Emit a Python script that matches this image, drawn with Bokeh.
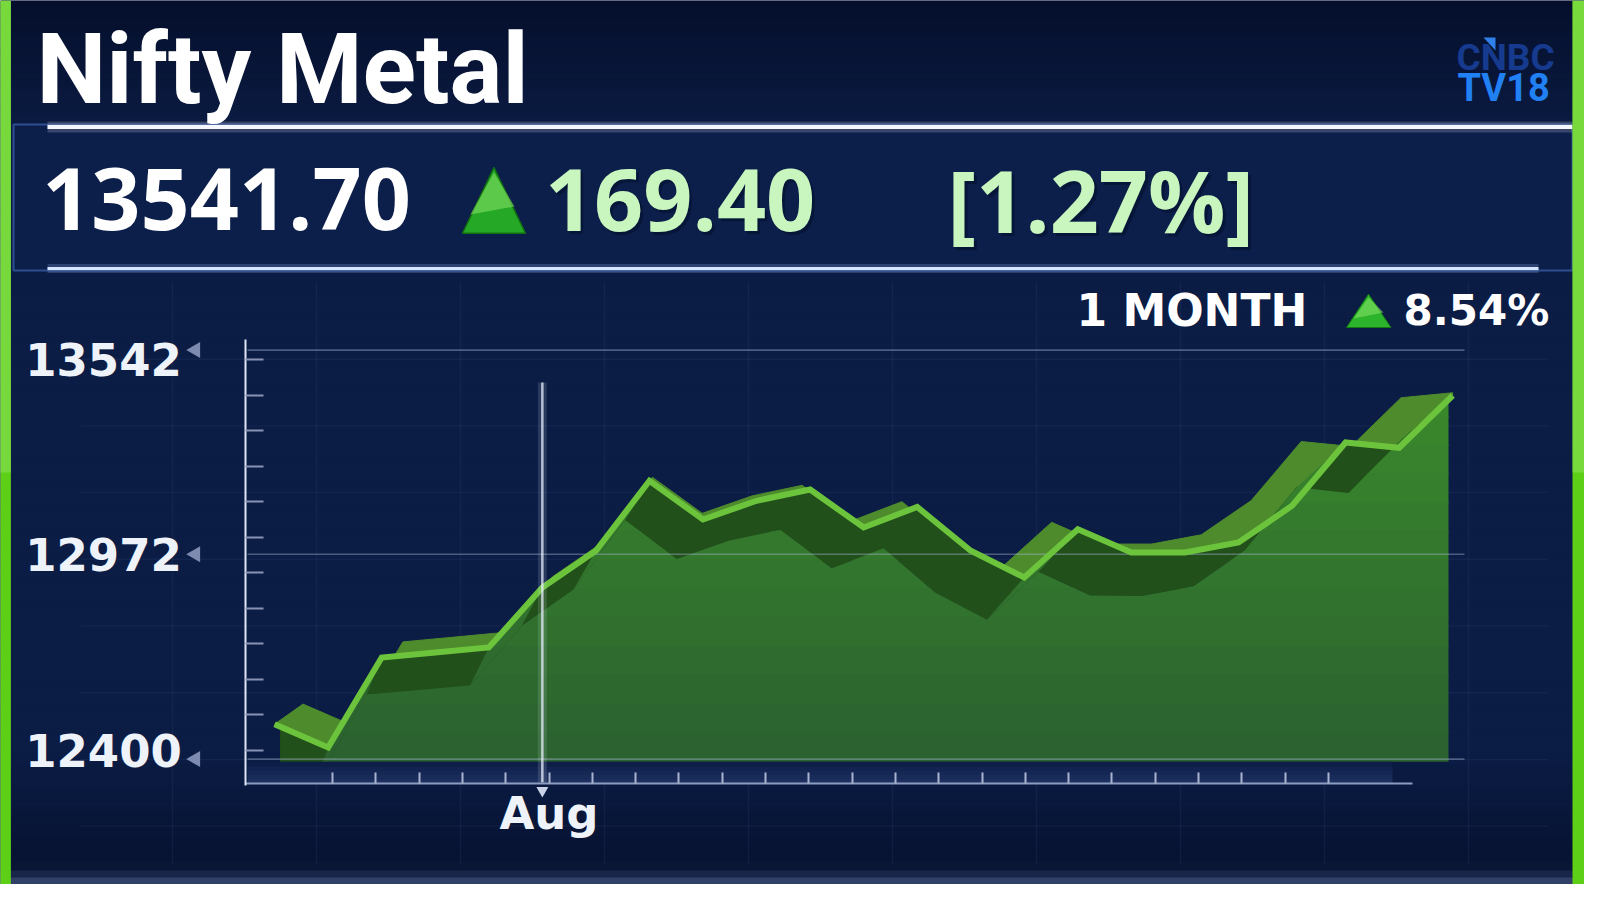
import numpy as np
from bokeh.plotting import figure
from bokeh.models import Range1d, LinearAxis, FixedTicker
from bokeh.core.properties import value
from bokeh.embed import file_html
from bokeh.resources import INLINE

# ------------------------------------------------------------------ data
index_name = "Nifty Metal"
last_close = 13541.70
day_change = 169.40
day_change_pct = 1.27
period_name = "1 MONTH"
period_change_pct = 8.54
logo_top, logo_bottom = "CNBC", "TV18"

closes = [12476.5, 12401.0, 12692.7, 12708.9, 12725.1, 12919.5, 13038.5,
          13265.3, 13139.9, 13200.5, 13237.1, 13114.0, 13180.4, 13038.5,
          12951.9, 13108.5, 13032.9, 13032.9, 13065.3, 13184.3, 13389.4,
          13372.3, 13541.7]
days = list(range(len(closes)))
month_start_day = 5
month_name = "Aug"
y_tick_values = [12400, 12972, 13542]
n_day_ticks = 24
n_axis_dashes = 12

# ------------------------------------------------------------------ layout
W, H, M = 1584, 884, 8
BG = "#0b1c45"
vmax = max(closes)

# front (data) plane calibration in page pixels
FX0, FDX, FY_TOP, FPU = 282.1, 53.55, 403.0, 0.30857
# back plane (day ticks), label scale and grid scale
BX0, BDX = 340.0, 43.3
LY0, LPU = 758.0, 0.34238
GY, GV, GPU = 562.0, 12971.3, 0.35813


def fpx(i, v):
    return FX0 + FDX * np.asarray(i, float), FY_TOP + (vmax - np.asarray(v, float)) * FPU


def fdata(X, Y):
    return (np.asarray(X, float) - FX0) / FDX, vmax - (np.asarray(Y, float) - FY_TOP) / FPU


def lab_v(Y):
    return y_tick_values[0] + (LY0 - Y) / LPU


def grid_v(Y):
    return GV + (GY - Y) / GPU


def back_x(X):
    return (X - BX0) / BDX


def mix(c1, c2, t):
    a = [int(c1[k:k + 2], 16) for k in (1, 3, 5)]
    b = [int(c2[k:k + 2], 16) for k in (1, 3, 5)]
    return "#%02x%02x%02x" % tuple(int(round(a[k] + (b[k] - a[k]) * t)) for k in range(3))


def clip_poly(pts, xmin=-1e9, xmax=1e9, ymin=-1e9, ymax=1e9):
    def edge(pts, inside, cross):
        out = []
        for idx in range(len(pts)):
            cur, prev = pts[idx], pts[idx - 1]
            ci, pi = inside(cur), inside(prev)
            if ci:
                if not pi:
                    out.append(cross(prev, cur))
                out.append(cur)
            elif pi:
                out.append(cross(prev, cur))
        return out

    def at_x(x0):
        return lambda p, q: (x0, p[1] + (q[1] - p[1]) * (x0 - p[0]) / (q[0] - p[0]))

    def at_y(y0):
        return lambda p, q: (p[0] + (q[0] - p[0]) * (y0 - p[1]) / (q[1] - p[1]), y0)

    pts = [(float(a), float(b)) for a, b in pts]
    steps = [(lambda p: p[0] >= xmin, at_x(xmin)), (lambda p: p[0] <= xmax, at_x(xmax)),
             (lambda p: p[1] >= ymin, at_y(ymin)), (lambda p: p[1] <= ymax, at_y(ymax))]
    for inside, cross in steps:
        if not pts:
            break
        pts = edge(pts, inside, cross)
    return pts


p = figure(width=W, height=H,
           x_range=Range1d((M - FX0) / FDX, (M + W - FX0) / FDX),
           y_range=Range1d(vmax - (M + H - FY_TOP) / FPU, vmax - (M - FY_TOP) / FPU),
           x_axis_type=None, y_axis_type=None, output_backend="svg",
           toolbar_location=None, min_border=0, background_fill_color=BG,
           border_fill_color=BG, outline_line_color=None)
p.extra_x_ranges = {"px": Range1d(M, M + W), "back": Range1d(back_x(M), back_x(M + W))}
p.extra_y_ranges = {"px": Range1d(M + H, M), "lab": Range1d(lab_v(M + H), lab_v(M)),
                    "grid": Range1d(grid_v(M + H), grid_v(M))}
PX = dict(x_range_name="px", y_range_name="px")

# ---------------------------------------------------------- background
stops = [(M, "#050f2c"), (130, "#0a1a40"), (320, "#0b1c45"), (760, "#0b1c45"),
         (862, "#071332"), (878, "#0b1738"), (M + H, "#3e4e76")]
bt, bb, bc = [], [], []
for (y0, c0), (y1, c1) in zip(stops[:-1], stops[1:]):
    n = max(2, int((y1 - y0) / 6))
    e = np.linspace(y0, y1, n + 1)
    for k in range(n):
        bt.append(e[k]); bb.append(e[k + 1] + 0.6); bc.append(mix(c0, c1, (k + 0.5) / n))
p.quad(left=M, right=M + W, top=bt, bottom=bb, fill_color=bc, line_color=None, **PX)

# faint background grid
gx = np.arange(180, 1560, 144.0)
gy = np.arange(366.7, 860, 66.7)
p.segment(x0=gx, x1=gx, y0=290, y1=872, line_color="#7f96d6", line_alpha=0.07, line_width=1.5, **PX)
p.segment(x0=88, x1=1556, y0=gy, y1=gy, line_color="#7f96d6", line_alpha=0.07, line_width=1.5, **PX)

# ---------------------------------------------------------- header box
p.quad(left=21, right=1580, top=132, bottom=278, fill_color="#0c1e4a",
       line_color="#2e4f90", line_width=2, **PX)
p.segment(x0=55, x1=1580, y0=134.5, y1=134.5, line_color="#ffffff", line_alpha=0.18, line_width=11, **PX)
p.segment(x0=55, x1=1580, y0=134.5, y1=134.5, line_color="#f4f7ff", line_width=4, **PX)
p.segment(x0=55, x1=1546, y0=276, y1=276, line_color="#9cc0ff", line_alpha=0.22, line_width=9, **PX)
p.segment(x0=55, x1=1546, y0=276, y1=276, line_color="#d6e4ff", line_width=3, **PX)

# ---------------------------------------------------------- 3D area geometry
fx, fy = fpx(days, closes)
ax_ = fx - 15 - 0.035 * (fx - 390)
ay_ = fy + 37 + 0.008 * (fx - 390)
bx_ = 700 + 0.932 * (fx - 700)
by_ = 436 + 0.932 * (fy - 436)
AREA_BOTTOM, AREA_LEFT, AREA_RIGHT = 769.3, 290.0, 1456.0

front = list(zip(fx, fy))
olive = front + [(fx[-1], by_[-1] - 5)] + list(zip(bx_, by_))[::-1]
dark = clip_poly(front + list(zip(ax_, ay_))[::-1], xmin=fx[0] + 6, ymax=AREA_BOTTOM)
area = clip_poly(list(zip(ax_, ay_)) + [(fx[-1], fy[-1]), (fx[-1], 1000), (ax_[0] - 60, 1000)],
                 xmin=AREA_LEFT, xmax=AREA_RIGHT, ymax=AREA_BOTTOM)
medium = [area]
for k in range(len(days) - 1):
    slope = (fy[k] - fy[k + 1]) / (fx[k + 1] - fx[k])
    if slope > 0.8:
        q = [(fx[k], fy[k]), (fx[k + 1], fy[k + 1]), (ax_[k + 1], ay_[k + 1]), (ax_[k], ay_[k])]
        q = clip_poly(q, ymax=AREA_BOTTOM)
        if len(q) >= 3:
            medium.append(q)


def to_data(poly):
    X, Y = zip(*poly)
    dx, dv = fdata(X, Y)
    return list(dx), list(dv)


ox, oy = to_data(olive)
p.patch(ox, oy, fill_color="#4e8b2c", line_color="#4e8b2c", line_width=1)
dxs, dys = to_data(dark)
p.patch(dxs, dys, fill_color="#22501a", line_color="#22501a", line_width=1)

mxs, mys, mcs = [], [], []
edges = np.linspace(395, AREA_BOTTOM, 14)
for poly in medium:
    for k in range(len(edges) - 1):
        piece = clip_poly(poly, ymin=(edges[k] - 0.6) if k else -1e9, ymax=edges[k + 1] + 0.6)
        if len(piece) >= 3:
            a, b = to_data(piece)
            mxs.append(a); mys.append(b)
            mcs.append(mix("#3b8a2c", "#2a602f", (k + 0.5) / (len(edges) - 1)))
p.patches(mxs, mys, fill_color=mcs, line_color=None)

# band between area and x axis
band = np.linspace(AREA_BOTTOM, 791, 6)
p.quad(left=255, right=1400, top=band[:-1], bottom=band[1:] + 0.5,
       fill_color=[mix("#0b1c45", "#1f3262", t) for t in np.linspace(0.1, 0.9, 5)],
       line_color=None, **PX)

# horizontal grid lines at the tick values
p.segment(x0=255, x1=1472, y0=y_tick_values, y1=y_tick_values, line_color="#a6b4d4",
          line_alpha=0.42, line_width=1.6, x_range_name="px", y_range_name="grid")
p.scatter(x=203, y=y_tick_values, marker="triangle", angle=np.pi / 2, size=16,
          fill_color="#7d8bb0", line_color=None, x_range_name="px", y_range_name="grid")

# main line
p.line(days, closes, line_color="#6cc43c", line_width=6, line_join="miter")

# month start marker
p.segment(x0=month_start_day, x1=month_start_day, y0=390, y1=790, line_color="#dfe7fb",
          line_alpha=0.14, line_width=9, y_range_name="px")
p.segment(x0=month_start_day, x1=month_start_day, y0=390, y1=790, line_color="#e8eefc",
          line_alpha=0.75, line_width=2.5, y_range_name="px")
p.scatter(x=month_start_day, y=798, marker="inverted_triangle", size=12,
          fill_color="#c9d2e6", line_color=None, y_range_name="px")

# ---------------------------------------------------------- axes
yax = LinearAxis(y_range_name="lab", fixed_location=float(fdata(253.3, 0)[0]),
                 ticker=FixedTicker(ticks=y_tick_values,
                                    minor_ticks=list(np.linspace(y_tick_values[0], vmax, n_axis_dashes))),
                 bounds=(lab_v(792.7), lab_v(346.7)),
                 axis_line_color="#dfe6f5", axis_line_width=2,
                 major_tick_in=0, major_tick_out=0,
                 minor_tick_in=18, minor_tick_out=0, minor_tick_line_color="#8893b3",
                 minor_tick_line_width=2, major_label_standoff=64,
                 major_label_text_font="DejaVu Sans", major_label_text_font_style="bold",
                 major_label_text_font_size="45px", major_label_text_color="#eef2f9")
p.add_layout(yax, "left")

xax = LinearAxis(x_range_name="back", y_range_name="lab", fixed_location=lab_v(790.7),
                 ticker=FixedTicker(ticks=list(range(n_day_ticks))),
                 bounds=(back_x(253.3), back_x(1420)),
                 axis_line_color="#8d9bc0", axis_line_width=2,
                 major_tick_in=11, major_tick_out=0, major_tick_line_color="#aab4d0",
                 major_tick_line_width=2, minor_tick_in=0, minor_tick_out=0,
                 major_label_overrides={k: (month_name if k == month_start_day else "")
                                        for k in range(n_day_ticks)},
                 major_label_standoff=4,
                 major_label_text_font="DejaVu Sans", major_label_text_font_style="bold",
                 major_label_text_font_size="45px", major_label_text_color="#eef2f9")
p.add_layout(xax, "below")

# ---------------------------------------------------------- texts (y ~ cap centre)
def txt(x, y, s, font, size, color, style="normal", alpha=1.0):
    p.text(x=[x], y=[y], text=[s], text_font=value(font), text_font_size=value(size),
           text_font_style=style, text_color=color, text_alpha=alpha,
           text_align="left", text_baseline="alphabetic", **PX)


txt(44, 76, index_name, "Roboto", "99px", "#ffffff", "bold")

txt(49.7, 206.5, f"{last_close:.2f}", "Open Sans", "86px", "#ffffff", "bold")
# up triangle (header)
p.patch([470, 501.5, 533], [240.7, 175, 240.7], fill_color="#25a825", line_color="#126e12", line_width=1.5, **PX)
p.patch([478, 501.5, 522], [222, 180, 214], fill_color="#8be36a", fill_alpha=0.55, line_color=None, **PX)
txt(555, 210, f"{day_change:.2f}", "Open Sans", "86px", "#04102e", "bold", alpha=0.6)
txt(552.4, 207, f"{day_change:.2f}", "Open Sans", "86px", "#c8f6be", "bold")
txt(958, 210, f"[{day_change_pct:.2f}%]", "Open Sans", "86px", "#04102e", "bold", alpha=0.6)
txt(955, 207, f"[{day_change_pct:.2f}%]", "Open Sans", "86px", "#c8f6be", "bold")

txt(1084, 318.3, period_name, "DejaVu Sans", "44px", "#ffffff", "bold")
p.patch([1354, 1376, 1398.5], [335, 301.7, 335], fill_color="#2cb52c", line_color="#147814", line_width=1, **PX)
p.patch([1361, 1376, 1391], [326, 305, 320], fill_color="#8be36a", fill_alpha=0.55, line_color=None, **PX)
txt(1411, 318.3, f"{period_change_pct:.2f}%", "DejaVu Sans", "42px", "#ffffff", "bold")

txt(1464, 65, logo_top, "Roboto", "37px", "#163a8e", "bold")
p.patch([1491, 1503, 1503], [45, 45, 58], fill_color="#2f80ea", line_color=None, **PX)
txt(1465, 95.3, logo_bottom, "Roboto", "38px", "#2080f4", "bold")

# ---------------------------------------------------------- side stripes
p.quad(left=[M - 20, 1580], right=[18.4, M + W + 20], top=M, bottom=M + H,
       fill_color="#5ccf16", line_color=None, **PX)
p.quad(left=[M - 20, 1580], right=[18.4, M + W + 20], top=M, bottom=480,
       fill_color="#9be46c", fill_alpha=0.45, line_color=None, **PX)

open("out.html", "w").write(file_html(p, INLINE))
